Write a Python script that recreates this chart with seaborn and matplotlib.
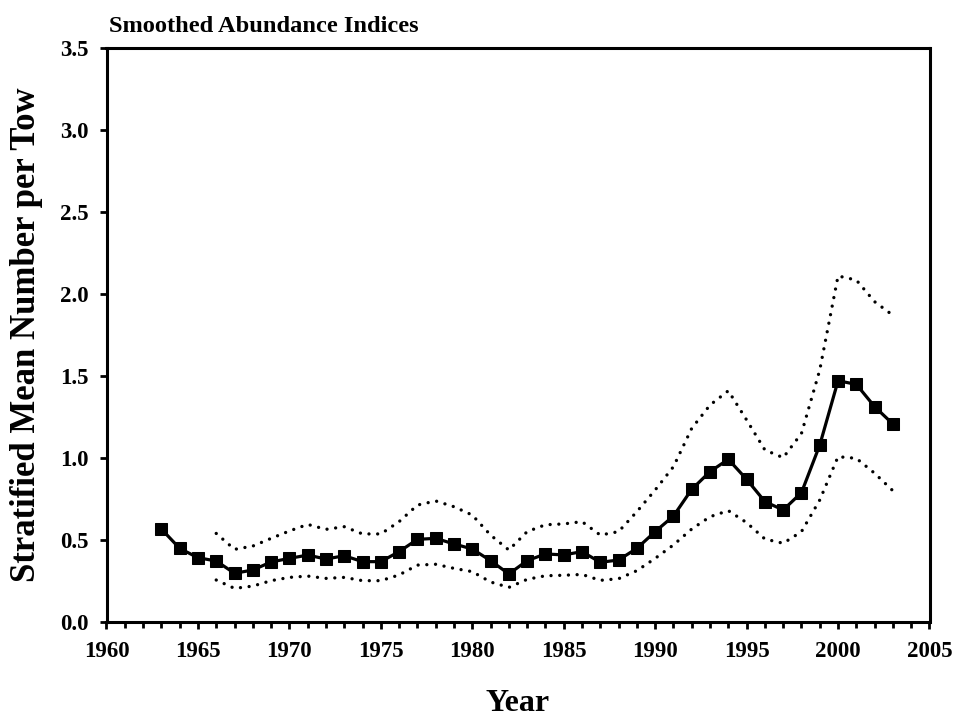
import matplotlib
matplotlib.use("Agg")
import matplotlib.pyplot as plt
import seaborn as sns
import pandas as pd
from matplotlib.ticker import MultipleLocator

# ---- data ----
years = list(range(1963, 2004))
index_values = [0.567, 0.449, 0.392, 0.372, 0.297, 0.317, 0.366, 0.388, 0.408, 0.384,
                0.404, 0.368, 0.368, 0.429, 0.504, 0.510, 0.476, 0.445, 0.374, 0.293,
                0.374, 0.415, 0.409, 0.429, 0.364, 0.378, 0.449, 0.551, 0.646, 0.809,
                0.917, 0.992, 0.870, 0.734, 0.683, 0.789, 1.079, 1.471, 1.449, 1.313,
                1.207]

ci_years = list(range(1966, 2004))
upper_values = [0.540, 0.443, 0.463, 0.510, 0.555, 0.595, 0.565, 0.581, 0.537, 0.537,
                0.612, 0.713, 0.738, 0.703, 0.652, 0.530, 0.439, 0.551, 0.593, 0.598,
                0.612, 0.530, 0.551, 0.673, 0.805, 0.947, 1.181, 1.323, 1.410, 1.232,
                1.049, 1.002, 1.150, 1.537, 2.110, 2.085, 1.953, 1.870]
lower_values = [0.256, 0.205, 0.219, 0.252, 0.272, 0.280, 0.266, 0.272, 0.252, 0.252,
                0.287, 0.347, 0.352, 0.327, 0.307, 0.244, 0.211, 0.260, 0.282, 0.285,
                0.290, 0.254, 0.264, 0.313, 0.388, 0.470, 0.567, 0.642, 0.679, 0.606,
                0.506, 0.480, 0.551, 0.744, 1.008, 0.998, 0.907, 0.800]

x_ticks = [1960, 1965, 1970, 1975, 1980, 1985, 1990, 1995, 2000, 2005]
y_ticks = [0.0, 0.5, 1.0, 1.5, 2.0, 2.5, 3.0, 3.5]

title_text = "Smoothed Abundance Indices"
x_label = "Year"
y_label = "Stratified Mean Number per Tow"

main_df = pd.DataFrame({"Year": years, "Index": index_values})
ci_df = pd.DataFrame({"Year": ci_years, "Upper": upper_values, "Lower": lower_values})

# ---- style ----
sns.set_style("white")
plt.rcParams["font.family"] = ["Liberation Serif", "DejaVu Serif"]
plt.rcParams["font.weight"] = "bold"
plt.rcParams["text.color"] = "black"
plt.rcParams["axes.labelcolor"] = "black"
plt.rcParams["xtick.color"] = "black"
plt.rcParams["ytick.color"] = "black"

fig = plt.figure(figsize=(9.57, 7.21), dpi=100)
W, H = 957, 721
left, right, top, bottom = 106.5, 929.5, 48, 622
ax = fig.add_axes([left / W, 1 - bottom / H, (right - left) / W, (bottom - top) / H])

dot_style = dict(color="black", linewidth=2.4, linestyle=(0, (0.01, 2.6)),
                 dash_capstyle="round", solid_capstyle="round")
sns.lineplot(data=ci_df, x="Year", y="Upper", ax=ax, **dot_style)
sns.lineplot(data=ci_df, x="Year", y="Lower", ax=ax, **dot_style)
sns.lineplot(data=main_df, x="Year", y="Index", ax=ax, color="black", linewidth=2.3,
             marker="s", markersize=8.5, markeredgecolor="black", markerfacecolor="black")

ax.set_xlim(x_ticks[0], x_ticks[-1])
ax.set_ylim(y_ticks[0], y_ticks[-1])
ax.set_xticks(x_ticks)
ax.set_yticks(y_ticks)
ax.set_xticklabels([str(t) for t in x_ticks])
ax.set_yticklabels([f"{t:.1f}" for t in y_ticks])
ax.xaxis.set_minor_locator(MultipleLocator(1))

for s in ax.spines.values():
    s.set_visible(True)
    s.set_color("black")
    s.set_linewidth(2.2)

ax.tick_params(axis="both", which="major", direction="out", length=5, width=2,
               color="black", labelcolor="black", labelsize=16.5, bottom=True, left=True)
ax.tick_params(axis="x", which="major", pad=9)
ax.tick_params(axis="y", which="major", pad=8)
ax.tick_params(axis="x", which="minor", direction="out", length=4, width=2,
               color="black", bottom=True)
for lab in ax.get_xticklabels() + ax.get_yticklabels():
    lab.set_fontweight("bold")

ax.set_xlabel(x_label, fontsize=23, fontweight="bold", labelpad=19, color="black")
ax.set_ylabel(y_label, fontsize=25, fontweight="bold", labelpad=12, color="black")
fig.text(109 / W, 1 - 27 / H, title_text, fontsize=17.6, fontweight="bold",
         ha="left", va="center", color="black")

fig.savefig("out.png", dpi=100, facecolor="white")
